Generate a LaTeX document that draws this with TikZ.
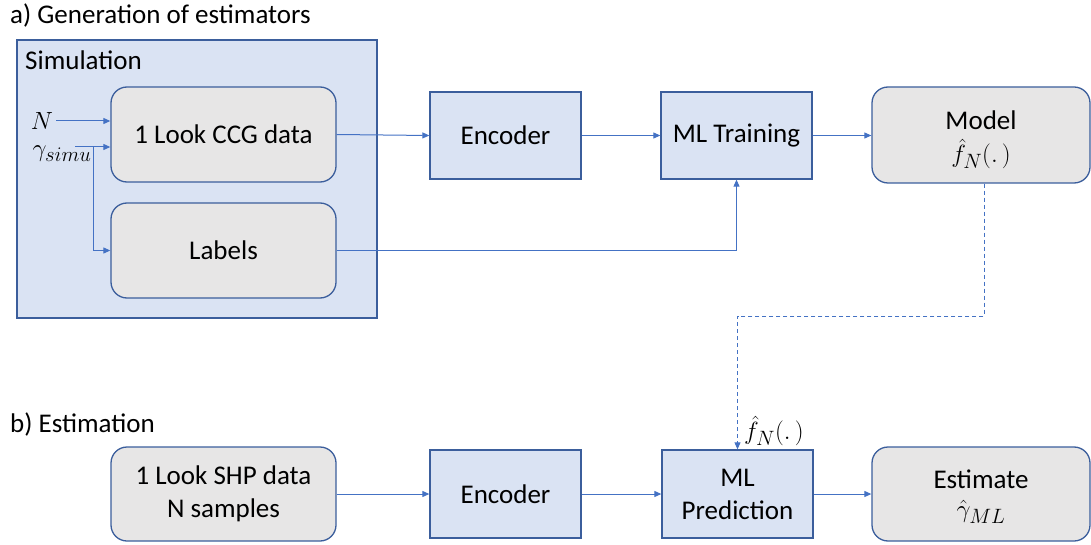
\documentclass[tikz,border=0pt]{standalone}
\usepackage{fontspec}
\setmainfont{Carlito}
\usetikzlibrary{arrows.meta,calc}
\definecolor{boxblue}{HTML}{DAE3F3}
\definecolor{boxgray}{HTML}{E7E6E6}
\definecolor{edgeblue}{HTML}{3B5E9C}
\definecolor{linkblue}{HTML}{4472C4}
\newcommand{\bigmath}[1]{{\fontsize{29}{31}\selectfont$#1$}}
\tikzset{
  txt/.style={font=\fontsize{27}{33}\selectfont, align=center, inner sep=0pt},
  bluebox/.style={txt, draw=edgeblue, line width=1.3pt, fill=boxblue, rectangle},
  graybox/.style={txt, draw=edgeblue, line width=1.3pt, fill=boxgray, rectangle, rounded corners=16pt},
  link/.style={draw=linkblue, line width=1pt, -{Triangle[length=7pt,width=6pt]}},
  dashlink/.style={link, dashed, dash pattern=on 4pt off 3pt},
  heading/.style={font=\fontsize{27}{33}\selectfont, inner sep=0pt, anchor=base west},
}
\begin{document}
\begin{tikzpicture}[x=1pt,y=-1pt]
\useasboundingbox (0,0) rectangle (1091,545);

% ---- part a) ----
\node[heading] (ta) at (10,24) {a) Generation of estimators};
\node[bluebox, minimum width=360pt, minimum height=278pt] (sim) at (197,179) {};
\node[heading] (simt) at (25,70) {Simulation};

\node[graybox, minimum width=225pt, minimum height=95pt] (ccg) at (223.5,134.5) {1 Look CCG data};
\node[graybox, minimum width=225pt, minimum height=95pt] (lab) at (223.5,250.5) {Labels};

\node[txt] (nin) at (42,121) {\bigmath{N}};
\node[txt] (gin) at (62,154) {\bigmath{\gamma_{simu}}};
\coordinate (nstart) at (56,121);
\coordinate (gstart) at (75,147);
\coordinate (gsplit) at (93,147);

\node[bluebox, minimum width=151pt, minimum height=87pt] (enc) at (505.5,135.5) {Encoder};
\node[bluebox, minimum width=151pt, minimum height=87pt] (mlt) at (736.5,135.5) {ML Training};
\node[graybox, minimum width=218pt, minimum height=96pt] (mod) at (981,135) {};
\node[txt] (modt) at (981,120) {Model};
\node[txt] (modf) at (981,154) {\bigmath{\hat{f}_N(.\,)}};

\draw[link] (nstart) -- (nstart -| ccg.west);
\draw[link] (gstart) -- (gstart -| ccg.west);
\draw[link] (gsplit) |- (lab.west);
\draw[link] (ccg.east) -- (enc.west);
\draw[link] (enc.east) -- (mlt.west);
\draw[link] (mlt.east) -- (mod.west |- mlt.east);
\draw[link] (lab.east) -| (mlt.south);

% ---- part b) ----
\node[heading] (tb) at (10,432) {b) Estimation};
\node[graybox, minimum width=225pt, minimum height=94pt] (shp) at (223.5,494) {1 Look SHP data\\N samples};
\node[bluebox, minimum width=151pt, minimum height=88pt] (enc2) at (505.5,494) {Encoder};
\node[bluebox, minimum width=151pt, minimum height=88pt] (mlp) at (737.5,494) {ML\\Prediction};
\node[graybox, minimum width=218pt, minimum height=94pt] (est) at (981,494) {};
\node[txt] (estt) at (981,479) {Estimate};
\node[txt] (estg) at (981,512) {\bigmath{\hat{\gamma}_{ML}}};
\node[txt, anchor=west] (fl) at (744,431) {\bigmath{\hat{f}_N(.\,)}};

\draw[link] (shp.east) -- (enc2.west);
\draw[link] (enc2.east) -- (mlp.west);
\draw[link] (mlp.east) -- (est.west);

% model handed over to the prediction step
\coordinate (bend) at (984,316);
\draw[dashlink] (mod.south -| bend) -- (bend) -| (mlp.north);
\end{tikzpicture}
\end{document}
